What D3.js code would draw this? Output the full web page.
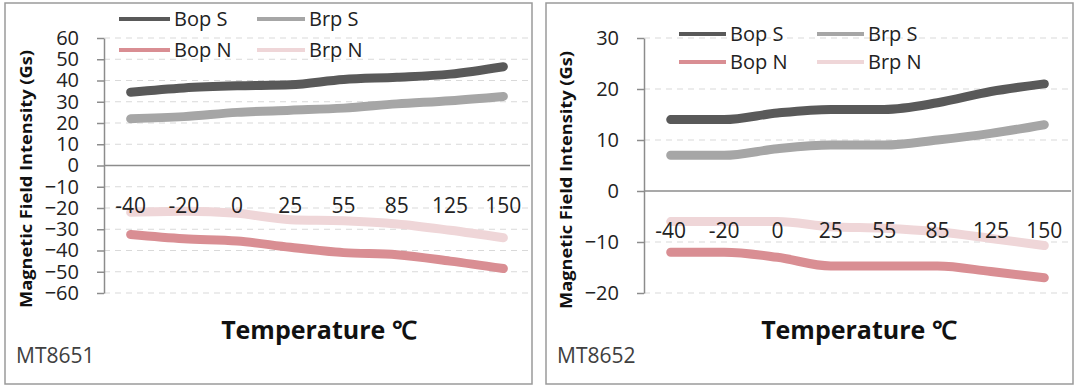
<!DOCTYPE html>
<html>
<head>
<meta charset="utf-8">
<script src="https://cdn.jsdelivr.net/npm/d3@7"></script>
<style>
  html, body { margin: 0; padding: 0; background: #fff; }
  svg { display: block; font-family: "Open Sans", sans-serif; }
</style>
</head>
<body>
<svg id="chart" width="1080" height="389"></svg>
<script>
// categories (temperature, deg C)
var temps = [ '-40', '-20', '0', '25', '55', '85', '125', '150' ];
var seriesNames = [ 'Bop S', 'Brp S', 'Bop N', 'Brp N' ];
var seriesColors = [ '#595959', '#a6a6a6', '#d98e93', '#efd6d8' ];

// MT8651 values (Gs)
var mt8651BopS = [ 34.5, 36.5, 37.5, 38, 40.5, 41.5, 43, 46.5 ];
var mt8651BrpS = [ 22, 23, 25, 26, 27, 29, 30.5, 32.5 ];
var mt8651BopN = [ -32.5, -34.5, -35.5, -38.5, -41, -42, -45, -48.5 ];
var mt8651BrpN = [ -22, -21.5, -22.5, -25.5, -26, -27.5, -30.5, -34 ];
var mt8651Ticks = [ 60, 50, 40, 30, 20, 10, 0, -10, -20, -30, -40, -50, -60 ];

// MT8652 values (Gs)
var mt8652BopS = [ 14, 14, 15.3, 16, 16, 17.3, 19.5, 21 ];
var mt8652BrpS = [ 7, 7, 8.3, 9, 9, 10, 11.3, 13 ];
var mt8652BopN = [ -12, -12, -13, -14.7, -14.7, -14.7, -15.8, -17 ];
var mt8652BrpN = [ -6, -6, -6, -7, -7.3, -8, -9.3, -10.7 ];
var mt8652Ticks = [ 30, 20, 10, 0, -10, -20 ];

var svg = d3.select( '#chart' );

/** Draw one panel */
function drawPanel( opts ) {
    var g = svg.append( 'g' );

    // frame
    g.append( 'rect' )
        .attr( 'x', opts.frame[ 0 ] ).attr( 'y', opts.frame[ 1 ] )
        .attr( 'width', opts.frame[ 2 ] ).attr( 'height', opts.frame[ 3 ] )
        .attr( 'fill', '#fff' ).attr( 'stroke', '#9a9a9a' ).attr( 'stroke-width', 1.5 );

    var x = d3.scalePoint().domain( temps ).range( [ opts.left, opts.right ] ).padding( 0.5 );
    var y = d3.scaleLinear().domain( d3.extent( opts.ticks ) ).range( [ opts.bottom, opts.top ] );

    // dashed gridlines
    g.selectAll( '.grid' ).data( opts.ticks.filter( function( t ) { return t !== 0; } ) ).enter()
        .append( 'line' )
        .attr( 'x1', opts.left ).attr( 'x2', opts.right )
        .attr( 'y1', function( d ) { return y( d ); } ).attr( 'y2', function( d ) { return y( d ); } )
        .attr( 'stroke', '#d9d9d9' ).attr( 'stroke-width', 1.2 ).attr( 'stroke-dasharray', '6,5' );

    // y axis
    var yAxis = d3.axisLeft( y ).tickValues( opts.ticks ).tickSize( 7 ).tickSizeOuter( 0 ).tickPadding( 18 );
    var ya = g.append( 'g' ).attr( 'transform', 'translate(' + opts.left + ',0)' ).call( yAxis );
    ya.select( '.domain' ).attr( 'stroke', '#8c8c8c' ).attr( 'stroke-width', 1.5 );
    ya.selectAll( '.tick line' ).attr( 'stroke', '#8c8c8c' ).attr( 'stroke-width', 1.5 );
    ya.selectAll( '.tick text' ).attr( 'fill', '#222' ).style( 'font-size', '20px' )
        .style( 'font-family', '"Open Sans", sans-serif' );

    // zero line
    g.append( 'line' )
        .attr( 'x1', opts.left ).attr( 'x2', opts.right )
        .attr( 'y1', y( 0 ) ).attr( 'y2', y( 0 ) )
        .attr( 'stroke', '#8c8c8c' ).attr( 'stroke-width', 1.5 );

    // series
    var line = d3.line()
        .x( function( d, i ) { return x( temps[ i ] ); } )
        .y( function( d ) { return y( d ); } )
        .curve( d3.curveMonotoneX );
    var order = [ 3, 2, 1, 0 ];
    order.forEach( function( k ) {
        g.append( 'path' )
            .attr( 'd', line( opts.series[ k ] ) )
            .attr( 'fill', 'none' )
            .attr( 'stroke', seriesColors[ k ] )
            .attr( 'stroke-width', 9 )
            .attr( 'stroke-linecap', 'round' )
            .attr( 'stroke-linejoin', 'round' );
    });

    // category labels (sit below the zero line, on top of the lines)
    g.selectAll( '.cat' ).data( temps ).enter()
        .append( 'text' )
        .attr( 'x', function( d ) { return x( d ); } )
        .attr( 'y', y( 0 ) + 47 )
        .attr( 'text-anchor', 'middle' )
        .attr( 'fill', '#222' )
        .style( 'font-size', '21px' )
        .text( function( d ) { return d; } );

    // legend
    seriesNames.forEach( function( name, k ) {
        var col = k % 2, row = Math.floor( k / 2 );
        var lx = opts.legend.x[ col ];
        var ly = opts.legend.y[ row ];
        g.append( 'line' )
            .attr( 'x1', lx ).attr( 'x2', lx + opts.legend.len[ col ] )
            .attr( 'y1', ly ).attr( 'y2', ly )
            .attr( 'stroke', seriesColors[ k ] ).attr( 'stroke-width', 4 );
        g.append( 'text' )
            .attr( 'x', lx + opts.legend.len[ col ] + 4 )
            .attr( 'y', ly )
            .attr( 'dy', '0.35em' )
            .attr( 'fill', '#222' )
            .style( 'font-size', '20px' )
            .text( name );
    });

    // axis titles
    g.append( 'text' )
        .attr( 'transform', 'translate(' + opts.yTitleX + ',' + opts.yTitleY + ') rotate(-90)' )
        .attr( 'text-anchor', 'middle' )
        .attr( 'dy', '0.35em' )
        .attr( 'fill', '#111' )
        .attr( 'textLength', 258 )
        .attr( 'lengthAdjust', 'spacingAndGlyphs' )
        .style( 'font-size', '16px' ).style( 'font-weight', 'bold' )
        .text( 'Magnetic Field Intensity  (Gs)' );
    g.append( 'text' )
        .attr( 'x', opts.xTitleX ).attr( 'y', 339 )
        .attr( 'text-anchor', 'middle' )
        .attr( 'fill', '#111' )
        .style( 'font-size', '25px' ).style( 'font-weight', 'bold' )
        .text( 'Temperature ℃' );

    // part name
    g.append( 'text' )
        .attr( 'x', opts.frame[ 0 ] + 11 ).attr( 'y', 363 )
        .attr( 'fill', '#404040' )
        .style( 'font-size', '21px' )
        .text( opts.name );
}

drawPanel({
    name    : 'MT8651',
    frame   : [ 5, 3, 527, 381 ],
    left    : 104, right : 530, top : 38, bottom : 293,
    ticks   : mt8651Ticks,
    series  : [ mt8651BopS, mt8651BrpS, mt8651BopN, mt8651BrpN ],
    legend  : { x : [ 119, 257 ], y : [ 19, 50 ], len : [ 51, 48 ] },
    yTitleX : 26, yTitleY : 179,
    xTitleX : 319
});

drawPanel({
    name    : 'MT8652',
    frame   : [ 546, 3, 527, 381 ],
    left    : 644, right : 1071, top : 38, bottom : 293,
    ticks   : mt8652Ticks,
    series  : [ mt8652BopS, mt8652BrpS, mt8652BopN, mt8652BrpN ],
    legend  : { x : [ 679, 817 ], y : [ 34, 62 ], len : [ 47, 47 ] },
    yTitleX : 566, yTitleY : 180,
    xTitleX : 859
});
</script>
</body>
</html>
